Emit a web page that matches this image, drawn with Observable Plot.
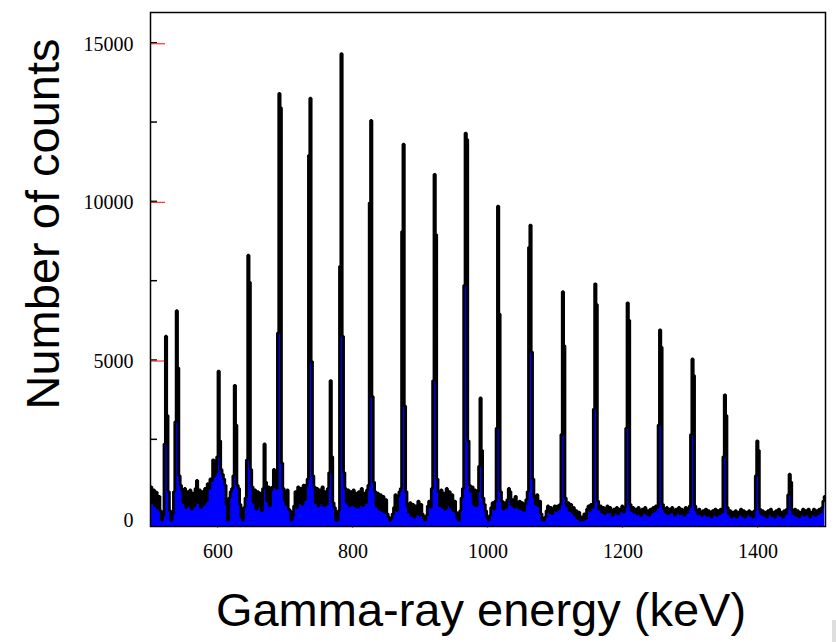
<!DOCTYPE html>
<html>
<head>
<meta charset="utf-8">
<script src="https://cdn.jsdelivr.net/npm/d3@7"></script>
<script src="https://cdn.jsdelivr.net/npm/@observablehq/plot@0.6"></script>
<style>
html, body { margin: 0; padding: 0; background: #fff; }
#chart { position: relative; width: 836px; height: 642px; overflow: hidden; }
#corner { position: absolute; left: 832px; top: 620px; width: 4px; height: 22px; background: #dedede; }
</style>
</head>
<body>
<div id="chart"><div id="corner"></div></div>
<script>
// Histogram: 2 keV bins, first bin starts at 500 keV
const binStart = 500;
const binWidth = 2;

// counts per bin, one array per 100 keV (bin centres 501, 503, ...)
const counts500 = [1050,550,950,450,880,370,750,300,0,150,
  2400,5800,3300,900,300,0,200,900,3100,6600,
  4800,1400,1100,950,550,1000,400,900,500,950,
  350,850,450,1000,1250,550,950,400,900,500,
  1000,600,1150,1000,1300,1250,1900,1400,1500,2000];
const counts600 = [4700,2500,1600,1450,1300,1100,500,0,700,900,
  1000,1400,4250,3000,1100,1000,500,100,0,400,
  700,1900,8350,7500,1600,1050,550,950,350,900,
  450,850,300,1000,2400,1200,600,1050,450,950,
  1050,1600,1200,1000,5900,13450,13000,1800,1000,650];
const counts700 = [500,950,350,300,0,150,450,900,400,1050,
  550,1000,500,1100,650,1100,1300,11500,13300,5000,
  1400,1050,550,1000,450,950,550,1050,450,900,
  500,1000,1500,4400,2000,550,400,0,0,300,
  8000,14700,5800,1500,1000,550,950,450,900,500];
const counts800 = [950,450,850,400,900,500,1000,450,850,550,
  950,1100,10000,12600,3900,1200,900,450,850,350,
  800,300,750,250,650,200,100,0,50,200,
  400,800,300,750,900,1000,9100,11850,3600,900,
  450,250,550,150,500,100,450,200,600,150];
const counts900 = [500,200,50,0,150,450,600,400,1000,4400,
  10900,9000,1300,900,450,950,400,850,350,1000,
  500,900,400,800,300,600,250,50,0,300,
  700,1000,7400,12200,12000,2500,1100,900,1050,500,
  950,450,900,1700,3850,2200,700,500,300,100];
const counts1000 = [0,150,400,550,350,600,2900,9900,6500,900,
  600,350,550,400,650,1000,900,500,650,400,
  750,550,400,600,350,550,300,500,650,900,
  8600,9300,5300,1300,700,500,800,450,600,200,
  0,0,100,300,450,250,400,200,350,450];
const counts1100 = [300,450,350,500,2700,7200,5500,700,450,550,
  300,500,250,400,150,300,50,250,0,100,
  0,200,50,350,450,300,500,400,3500,7450,
  6800,600,350,450,250,400,200,350,450,250,
  400,300,150,350,250,400,200,350,300,450];
const counts1200 = [250,400,2900,6850,6300,500,300,400,250,350,
  200,400,300,150,350,250,400,200,300,150,
  350,250,400,300,450,400,3000,6000,5450,500,
  350,250,400,200,350,250,400,300,150,350,
  250,400,200,350,300,150,400,250,350,450];
const counts1300 = [2700,5080,4560,450,300,200,350,250,150,300,
  200,350,150,300,250,100,300,200,350,150,
  300,200,350,250,2000,3950,3300,400,200,300,
  100,250,150,300,100,250,200,350,150,300,
  100,250,200,300,150,250,100,300,1400,2500];
const counts1400 = [2200,350,200,300,150,250,100,300,200,350,
  150,250,100,300,200,350,150,250,100,300,
  200,350,800,1450,1200,300,200,350,150,300,
  100,250,200,350,150,300,200,350,100,250,
  200,350,150,300,200,350,250,400,600,750];

const xDomain = [500, 1500];
const yDomain = [-200, 16000];
const xMajorTicks = [600, 800, 1000, 1200, 1400];
const yMajorTicks = [0, 5000, 10000, 15000];
const yMinorTicks = [2500, 7500, 12500];
const xTitle = "Gamma-ray energy (keV)";
const yTitle = "Number of counts";

const counts = [].concat(counts500, counts600, counts700, counts800, counts900,
  counts1000, counts1100, counts1200, counts1300, counts1400);
const spectrum = counts.map((c, i) => ({energy: binStart + binWidth * (i + 0.5), counts: c}));

const plot = Plot.plot({
  width: 836,
  height: 642,
  marginLeft: 150,
  marginRight: 11,
  marginTop: 12,
  marginBottom: 116,
  style: {fontFamily: "'Liberation Serif', 'Times New Roman', serif", fontSize: "20px", background: "#fff", color: "#000", overflow: "visible"},
  x: {domain: xDomain},
  y: {domain: yDomain},
  marks: [
    Plot.areaY(spectrum, {x: "energy", y1: yDomain[0], y2: "counts", curve: "step", fill: "#0000ff", clip: true}),
    Plot.lineY(spectrum, {x: "energy", y: "counts", curve: "step", stroke: "#000", strokeWidth: 2.8, strokeLinejoin: "miter", clip: true}),
    Plot.axisX(xMajorTicks, {tickSize: 0, tickPadding: 17, tickFormat: d => String(d), label: null, fontSize: 20}),
    Plot.axisY(yMajorTicks, {tickSize: 0, tickPadding: 17, tickFormat: d => String(d), label: null, fontSize: 20}),
    Plot.frame({stroke: "#000", strokeWidth: 1.5})
  ]
});

const sx = plot.scale("x");
const sy = plot.scale("y");
const svg = d3.select(plot);
const left = sx.apply(xDomain[0]);
const bottom = sy.apply(yDomain[0]);

// tick marks drawn beneath the data, as in the original
const ticks = svg.insert("g", "g").attr("class", "ticks");
yMinorTicks.concat(yMajorTicks).forEach(v => {
  ticks.append("line")
    .attr("x1", left).attr("x2", left + 7)
    .attr("y1", sy.apply(v) - 1).attr("y2", sy.apply(v) - 1)
    .attr("stroke", "#000").attr("stroke-width", 1.5);
});
yMajorTicks.forEach(v => {
  ticks.append("line")
    .attr("x1", left).attr("x2", left + 15)
    .attr("y1", sy.apply(v)).attr("y2", sy.apply(v))
    .attr("stroke", "#ff3030").attr("stroke-width", 1.2);
});
xMajorTicks.forEach(v => {
  ticks.append("line")
    .attr("x1", sx.apply(v)).attr("x2", sx.apply(v))
    .attr("y1", bottom - 6).attr("y2", bottom + 1.8)
    .attr("stroke", "#ff3030").attr("stroke-width", 1.2);
});

// axis titles
svg.append("text")
  .attr("x", 481).attr("y", 626)
  .attr("text-anchor", "middle")
  .style("font-family", "'Liberation Sans', Arial, sans-serif")
  .style("font-size", "47px")
  .attr("fill", "#000")
  .text(xTitle);
svg.append("text")
  .attr("transform", "translate(59,224) rotate(-90)")
  .attr("text-anchor", "middle")
  .style("font-family", "'Liberation Sans', Arial, sans-serif")
  .style("font-size", "47px")
  .attr("fill", "#000")
  .text(yTitle);

document.getElementById("chart").prepend(plot);
</script>
</body>
</html>
